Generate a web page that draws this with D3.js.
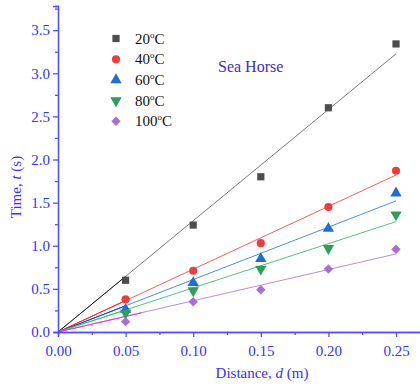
<!DOCTYPE html>
<html>
<head>
<meta charset="utf-8">
<script src="https://cdn.jsdelivr.net/npm/d3@7"></script>
<style>
  body { margin: 0; background: #fff; }
  svg { display: block; }
</style>
</head>
<body>
<div id="chart"></div>
<script>
const width = 420;
const height = 385;

const distances = [0.05, 0.10, 0.15, 0.20, 0.25];
const series = ['20', '40', '60', '80', '100'];
const t20 = [0.60, 1.24, 1.80, 2.60, 3.34];
const t40 = [0.38, 0.71, 1.03, 1.45, 1.87];
const t60 = [0.26, 0.57, 0.85, 1.20, 1.61];
const t80 = [0.22, 0.48, 0.73, 0.97, 1.36];
const t100 = [0.12, 0.35, 0.49, 0.73, 0.96];
// fitted slopes (s/m), lines through origin
const slopes = [12.9, 7.28, 6.08, 5.12, 3.62];
const xTicks = [0, 0.05, 0.10, 0.15, 0.20, 0.25];
const yTicks = [0, 0.5, 1.0, 1.5, 2.0, 2.5, 3.0, 3.5];

const values = [t20, t40, t60, t80, t100];
const markColor = ['#4d4d4d', '#ef3b3b', '#1f6ed8', '#2e9e5c', '#a66fd6'];
const lineColor = ['#7a7a7a', '#f06060', '#4a8ee0', '#58c080', '#b890e0'];
const nearColor = ['#222222', '#ff2020', '#1030ff', '#20e020', '#ff20ff'];
const nearEnd = [0.05, 0.05, 0.05, 0.05, 0.062];
const shapes = [d3.symbolSquare, d3.symbolCircle, d3.symbolTriangle, d3.symbolTriangle, d3.symbolSquare];
const shapeSize = [52, 52, 56, 56, 44];
const rotation = [0, 0, 0, 180, 45];

const axisColor = '#5050ff';
const textColor = '#3333ff';
const font = '"Liberation Serif", "Times New Roman", serif';

const x = d3.scaleLinear().domain([0, 0.2707]).range([58, 424]);
const y = d3.scaleLinear().domain([0, 3.78]).range([332, 6]);

const svg = d3.select('#chart')
  .append('svg')
  .attr('width', width)
  .attr('height', height);

// fit lines
series.forEach((s, i) => {
  svg.append('line')
    .attr('x1', x(0)).attr('y1', y(0))
    .attr('x2', x(0.25)).attr('y2', y(slopes[i] * 0.25))
    .attr('stroke', lineColor[i])
    .attr('stroke-width', 1);
  svg.append('line')
    .attr('x1', x(0)).attr('y1', y(0))
    .attr('x2', x(nearEnd[i])).attr('y2', y(slopes[i] * nearEnd[i]))
    .attr('stroke', nearColor[i])
    .attr('stroke-width', 1);
});

// markers
series.forEach((s, i) => {
  svg.append('g')
    .selectAll('path')
    .data(values[i])
    .enter()
    .append('path')
    .attr('d', d3.symbol().type(shapes[i]).size(shapeSize[i]))
    .attr('transform', (d, j) => `translate(${x(distances[j])},${y(d)}) rotate(${rotation[i]})`)
    .attr('fill', markColor[i]);
});

// axes
const xAxis = svg.append('g')
  .attr('transform', `translate(0,${y(0)})`)
  .call(d3.axisBottom(x).tickValues(xTicks).tickFormat(d3.format('.2f')).tickSizeOuter(0).tickSize(5));
const xMinor = svg.append('g')
  .attr('transform', `translate(0,${y(0)})`)
  .call(d3.axisBottom(x).tickValues(d3.range(0.025, 0.27, 0.05)).tickFormat('').tickSizeOuter(0).tickSize(3));

const yAxis = svg.append('g')
  .attr('transform', `translate(${x(0)},0)`)
  .call(d3.axisLeft(y).tickValues(yTicks).tickFormat(d3.format('.1f')).tickSizeOuter(0).tickSize(5));
const yMinor = svg.append('g')
  .attr('transform', `translate(${x(0)},0)`)
  .call(d3.axisLeft(y).tickValues(d3.range(0.25, 3.8, 0.5)).tickFormat('').tickSizeOuter(0).tickSize(3));

[xAxis, xMinor, yAxis, yMinor].forEach(g => {
  g.selectAll('path, line').attr('stroke', axisColor).attr('stroke-width', 1.3);
  g.selectAll('text')
    .attr('fill', textColor)
    .attr('font-family', font)
    .attr('font-size', 15);
});
xAxis.selectAll('text').attr('dy', '1.05em');
yAxis.selectAll('text').attr('x', -8);

// axis titles
const xt = svg.append('text')
  .attr('x', 262).attr('y', 378)
  .attr('text-anchor', 'middle')
  .attr('fill', textColor)
  .attr('font-family', font)
  .attr('font-size', 15);
xt.append('tspan').text('Distance, ');
xt.append('tspan').attr('font-style', 'italic').text('d');
xt.append('tspan').text(' (m)');

const yt = svg.append('text')
  .attr('transform', 'translate(21,187) rotate(-90)')
  .attr('text-anchor', 'middle')
  .attr('fill', textColor)
  .attr('font-family', font)
  .attr('font-size', 15);
yt.append('tspan').text('Time, ');
yt.append('tspan').attr('font-style', 'italic').text('t');
yt.append('tspan').text(' (s)');

// label
svg.append('text')
  .attr('x', 218).attr('y', 72)
  .attr('fill', '#3a2fc0')
  .attr('font-family', font)
  .attr('font-size', 16)
  .text('Sea Horse');

// legend
const legend = svg.append('g')
  .selectAll('g')
  .data(series)
  .enter()
  .append('g')
  .attr('transform', (d, i) => `translate(116,${38.5 + i * 20.7})`);

legend.append('path')
  .attr('d', (d, i) => d3.symbol().type(shapes[i]).size(shapeSize[i])())
  .attr('transform', (d, i) => `rotate(${rotation[i]})`)
  .attr('fill', (d, i) => markColor[i]);

const lt = legend.append('text')
  .attr('x', 19).attr('y', 5)
  .attr('fill', '#111')
  .attr('font-family', font)
  .attr('font-size', 15);
lt.append('tspan').text(d => d);
lt.append('tspan').attr('font-size', 9).attr('dy', -6).text('o');
lt.append('tspan').attr('dy', 6).text('C');
</script>
</body>
</html>
